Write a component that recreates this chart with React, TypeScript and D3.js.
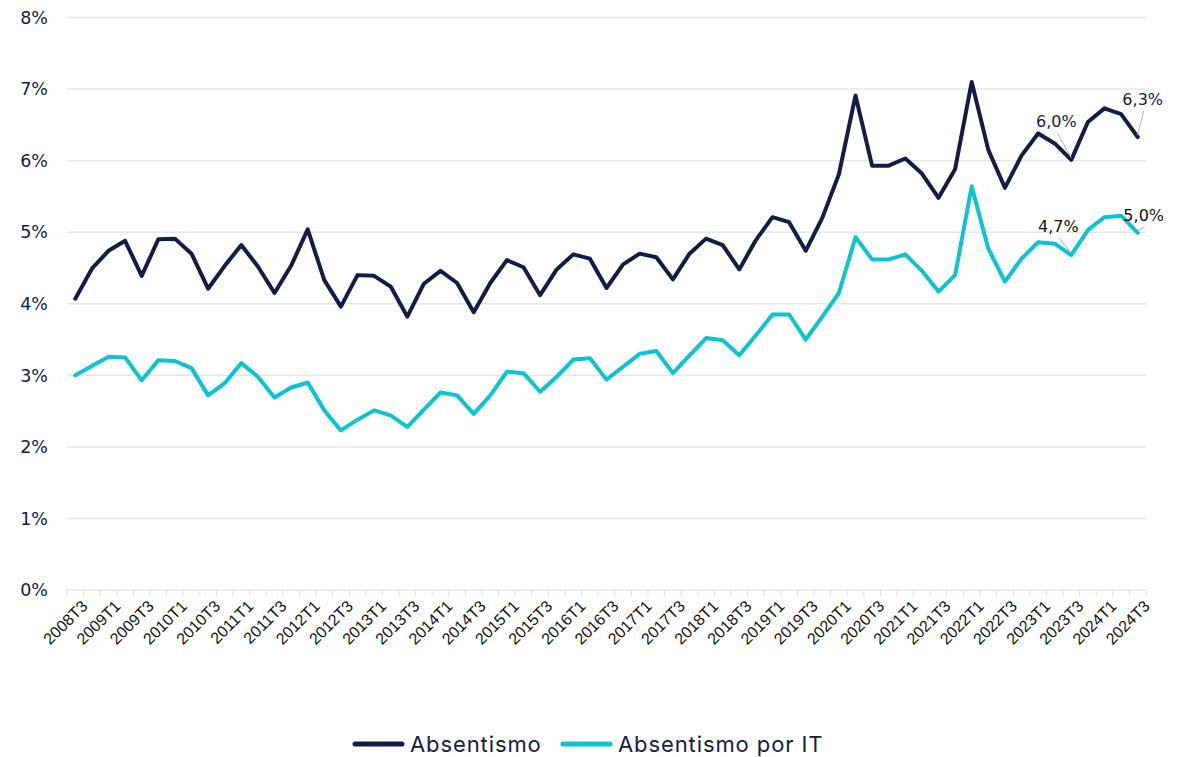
import React from "react";
import * as d3 from "d3";

const years = d3.range(2008, 2025);
const categories: string[] = [];
years.forEach((y) => {
  [1, 2, 3, 4].forEach((q) => {
    if ((y === 2008 && q < 3) || (y === 2024 && q > 3)) return;
    categories.push(`${y}T${q}`);
  });
});

const absentismo = [
  4.07, 4.49, 4.74, 4.88, 4.39, 4.9, 4.91, 4.7, 4.21, 4.53, 4.82, 4.52, 4.15, 4.53, 5.04, 4.33,
  3.96, 4.4, 4.39, 4.24, 3.82, 4.28, 4.46, 4.29, 3.88, 4.29, 4.61, 4.51, 4.12, 4.48, 4.69, 4.63,
  4.22, 4.55, 4.7, 4.65, 4.34, 4.7, 4.91, 4.82, 4.48, 4.89, 5.21, 5.14, 4.74, 5.2, 5.81, 6.91,
  5.93, 5.93, 6.03, 5.82, 5.48, 5.88, 7.1, 6.15, 5.62, 6.07, 6.38, 6.24, 6.01, 6.54, 6.73, 6.65,
  6.33,
];

const absentismoIT = [
  3.0, 3.13, 3.26, 3.25, 2.93, 3.21, 3.2, 3.1, 2.72, 2.89, 3.17, 2.98, 2.69, 2.83, 2.9, 2.51,
  2.23, 2.38, 2.51, 2.44, 2.28, 2.52, 2.76, 2.72, 2.46, 2.72, 3.05, 3.03, 2.77, 2.98, 3.22, 3.24,
  2.94, 3.12, 3.3, 3.34, 3.03, 3.28, 3.52, 3.49, 3.28, 3.56, 3.85, 3.85, 3.5, 3.82, 4.15, 4.93,
  4.62, 4.62, 4.69, 4.46, 4.17, 4.4, 5.64, 4.77, 4.31, 4.63, 4.86, 4.84, 4.68, 5.03, 5.21, 5.23,
  4.99,
];

const yTicks = [0, 1, 2, 3, 4, 5, 6, 7, 8];
const seriesNames = ["Absentismo", "Absentismo por IT"];
const seriesColors = ["#141b47", "#0cc4cf"];

// annotations: series index, point index, label, label offset
const annotations = [
  { s: 0, i: 60, label: "6,0%", dx: -15, dy: -33, color: "#141b47" },
  { s: 0, i: 64, label: "6,3%", dx: 5, dy: -32, color: "#141b47" },
  { s: 1, i: 60, label: "4,7%", dx: -13, dy: -23, color: "#111111" },
  { s: 1, i: 64, label: "5,0%", dx: 6, dy: -12, color: "#111111" },
];

const W = 1180;
const H = 757;

export default function App() {
  const x = d3.scaleBand<string>().domain(categories).range([67, 1146]).padding(0);
  const y = d3.scaleLinear().domain([0, 8]).range([590, 17.5]);
  const cx = (c: string) => (x(c) as number) + x.bandwidth() / 2;
  const all = [absentismo, absentismoIT];
  const line = d3
    .line<number>()
    .x((_, i) => cx(categories[i]))
    .y((d) => y(d));

  const tickLabelCats = categories.filter((_, i) => i % 2 === 0);
  const boundaries = categories.map((c) => x(c) as number).concat([1146]);

  return (
    <svg width={W} height={H} style={{ position: "absolute", left: 0, top: 0, background: "#fff" }}>
      {yTicks.map((t) => (
        <g key={t}>
          <line x1={67} x2={1146} y1={y(t)} y2={y(t)} stroke="#e3e6ec" strokeWidth={1.5} />
          <text
            x={48}
            y={y(t)}
            dy="0.36em"
            textAnchor="end"
            fontFamily="DejaVu Sans, Verdana, sans-serif"
            fontSize={17.5}
            fill="#141b47"
          >
            {t}%
          </text>
        </g>
      ))}
      {boundaries.map((b, i) => (
        <line key={i} x1={b} x2={b} y1={590} y2={596} stroke="#d9dde4" strokeWidth={1} />
      ))}
      {tickLabelCats.map((c) => (
        <text
          key={c}
          transform={`translate(${cx(c) + 5},${599}) rotate(-45)`}
          textAnchor="end"
          dy="0.72em"
          fontFamily="Liberation Sans, Arial, sans-serif"
          fontSize={16}
          fill="#111"
        >
          {c}
        </text>
      ))}
      {all.map((d, si) => (
        <path
          key={si}
          d={line(d) as string}
          fill="none"
          stroke={seriesColors[si]}
          strokeWidth={4}
          strokeLinejoin="round"
          strokeLinecap="round"
        />
      ))}
      {annotations.map((a, k) => {
        const px = cx(categories[a.i]);
        const py = y(all[a.s][a.i]);
        const tx = px + a.dx;
        const ty = py + a.dy;
        return (
          <g key={k}>
            <line x1={tx + 1} y1={ty + 6} x2={px} y2={py - 2} stroke="#a9b2c4" strokeWidth={1} />
            <text
              x={tx}
              y={ty}
              textAnchor="middle"
              fontFamily="DejaVu Sans, Verdana, sans-serif"
              fontSize={16}
              fill={a.color}
            >
              {a.label}
            </text>
          </g>
        );
      })}
      {seriesNames.map((n, i) => {
        const lx = [355, 563][i];
        return (
          <g key={n}>
            <line x1={lx} x2={lx + 47} y1={744} y2={744} stroke={seriesColors[i]} strokeWidth={5} strokeLinecap="round" />
            <text
              x={lx + 55}
              y={744}
              dy="0.36em"
              fontFamily="Inter, sans-serif"
              fontSize={22}
              letterSpacing={0.9}
              fill="#141b47"
            >
              {n}
            </text>
          </g>
        );
      })}
    </svg>
  );
}
